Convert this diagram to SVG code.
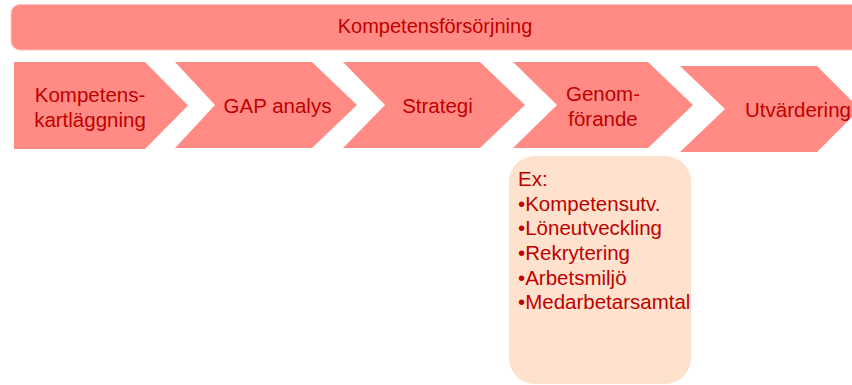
<svg xmlns="http://www.w3.org/2000/svg" width="852" height="385" viewBox="0 0 852 385">
<style>
.shape{fill:#FF8B84;}
.t{font-family:"Liberation Sans",Arial,sans-serif;font-size:20.5px;fill:#C00000;text-anchor:middle;}
.l{font-family:"Liberation Sans",Arial,sans-serif;font-size:20.5px;fill:#C00000;}
</style>
<rect x="0" y="0" width="852" height="385" fill="#FFFFFF"/>
<g id="title">
<rect x="11" y="4.5" width="860" height="45.5" rx="9" ry="9" fill="#FF8B84" stroke="#FFC2BC" stroke-width="1"/>
<text class="t" x="435" y="33" style="font-size:20px">Kompetensförsörjning</text>
</g>
<g id="connectors"></g>
<g id="step1">
<path class="shape" d="M14,62 H145 L188,105.5 L145,149 H14 Z"/>
<text class="t" x="90" y="101.5">Kompetens-</text>
<text class="t" x="90" y="126.5">kartläggning</text>
</g>
<g id="step2">
<path class="shape" d="M175,62 H312 L357,105 L312,148 H175 L215,105 Z"/>
<text class="t" x="277.5" y="113">GAP analys</text>
</g>
<g id="step3">
<path class="shape" d="M343,62 H480 L525,105 L480,148 H343 L385,105 Z"/>
<text class="t" x="437.5" y="113">Strategi</text>
</g>
<g id="step4">
<path class="shape" d="M513,62 H648 L693,105 L648,148 H513 L557,105 Z"/>
<text class="t" x="603" y="100.5">Genom-</text>
<text class="t" x="603" y="125.5">förande</text>
</g>
<g id="step5">
<path class="shape" d="M680,66 H817 L860,109 L817,152 H680 L725,109 Z"/>
<text class="t" x="798" y="116.5">Utvärdering</text>
</g>
<g id="examples">
<rect x="509" y="156" width="182" height="228" rx="26" ry="26" fill="#FEE2CD"/>
<text class="l" x="518" y="186">Ex:</text>
<text class="l" x="518" y="210.5">•Kompetensutv.</text>
<text class="l" x="518" y="235">•Löneutveckling</text>
<text class="l" x="518" y="260">•Rekrytering</text>
<text class="l" x="518" y="284.5">•Arbetsmiljö</text>
<text class="l" x="518" y="309">•Medarbetarsamtal</text>
</g>
</svg>
